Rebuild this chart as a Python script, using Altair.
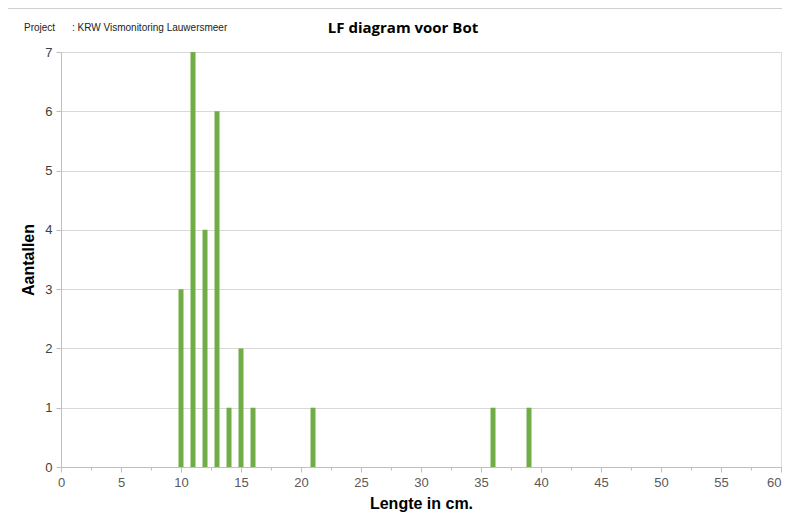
import altair as alt
import pandas as pd

lengths = [10, 11, 12, 13, 14, 15, 16, 21, 36, 39]
counts = [3, 7, 4, 6, 1, 2, 1, 1, 1, 1]
x_major = [0, 5, 10, 15, 20, 25, 30, 35, 40, 45, 50, 55, 60]
x_minor = [2.5, 7.5, 12.5, 17.5, 22.5, 27.5, 32.5, 37.5, 42.5, 47.5, 52.5, 57.5]
y_ticks = [0, 1, 2, 3, 4, 5, 6, 7]

df = pd.DataFrame({"lengte": lengths, "aantal": counts})

xscale = alt.Scale(domain=[0, 60], nice=False, zero=True, padding=0)
yscale = alt.Scale(domain=[0, 7], nice=False)

bars = alt.Chart(df).mark_bar(color="#70ad47", size=5).encode(
    x=alt.X("lengte:Q", scale=xscale,
            axis=alt.Axis(values=x_major, title="Lengte in cm.", titleFontSize=16,
                          titleFontWeight="bold", titleColor="#000000", titleFont="Liberation Sans",
                          titlePadding=6, labelFontSize=13, labelColor="#595959",
                          labelFont="Liberation Sans", labelPadding=4, labelFlush=False,
                          labelAlign=alt.ExprRef(expr="datum.value >= 60 ? 'right' : 'center'"),
                          tickSize=5, tickColor="#bfbfbf", domainColor="#bfbfbf",
                          grid=False, orient="bottom")),
    y=alt.Y("aantal:Q", scale=yscale,
            axis=alt.Axis(values=y_ticks, title="Aantallen", titleFontSize=16,
                          titleFontWeight="bold", titleColor="#000000", titleFont="Liberation Sans",
                          titlePadding=8, labelFontSize=13, labelColor="#404040",
                          labelFont="Liberation Sans", labelPadding=4, labelFlush=False,
                          tickSize=5, tickColor="#bfbfbf", domainColor="#bfbfbf",
                          grid=True, gridColor="#d9d9d9")),
)

minor = alt.Chart(pd.DataFrame({"m": x_minor})).mark_point(opacity=0).encode(
    x=alt.X("m:Q", scale=xscale,
            axis=alt.Axis(values=x_minor, labels=False, title=None, domain=False,
                          tickSize=3, tickColor="#bfbfbf", grid=False, orient="bottom")),
)

project1 = alt.Chart(pd.DataFrame({"t": ["Project"]})).mark_text(
    align="left", baseline="middle", fontSize=10, font="Liberation Sans", color="#222222"
).encode(x=alt.value(-37), y=alt.value(-24), text="t:N")

project2 = alt.Chart(pd.DataFrame({"t": [": KRW Vismonitoring Lauwersmeer"]})).mark_text(
    align="left", baseline="middle", fontSize=10, font="Liberation Sans", color="#222222"
).encode(x=alt.value(11), y=alt.value(-24), text="t:N")

title = alt.Chart(pd.DataFrame({"t": ["LF diagram voor Bot"]})).mark_text(
    align="center", baseline="middle", fontSize=15, font="Open Sans", fontWeight="bold",
    color="#000000"
).encode(x=alt.value(342), y=alt.value(-24), text="t:N")

frame_top = alt.Chart(pd.DataFrame({"a": [0]})).mark_rule(color="#d0d0d0", strokeWidth=1).encode(
    x=alt.value(-54), x2=alt.value(740), y=alt.value(-43.5))
frame_left = alt.Chart(pd.DataFrame({"a": [0]})).mark_rule(color="#d0d0d0", strokeWidth=1).encode(
    x=alt.value(-53.5), y=alt.value(-44), y2=alt.value(470))

chart = alt.layer(frame_top, frame_left, bars, minor, project1, project2, title).resolve_axis(
    x="independent").properties(
    width=720, height=415,
    padding={"left": 53, "top": 44, "right": 1, "bottom": 47},
    autosize=alt.AutoSizeParams(type="none"),
).configure_view(stroke=None).configure(background="white")

chart.save("out.html", embed_options={"renderer": "svg", "actions": False})
